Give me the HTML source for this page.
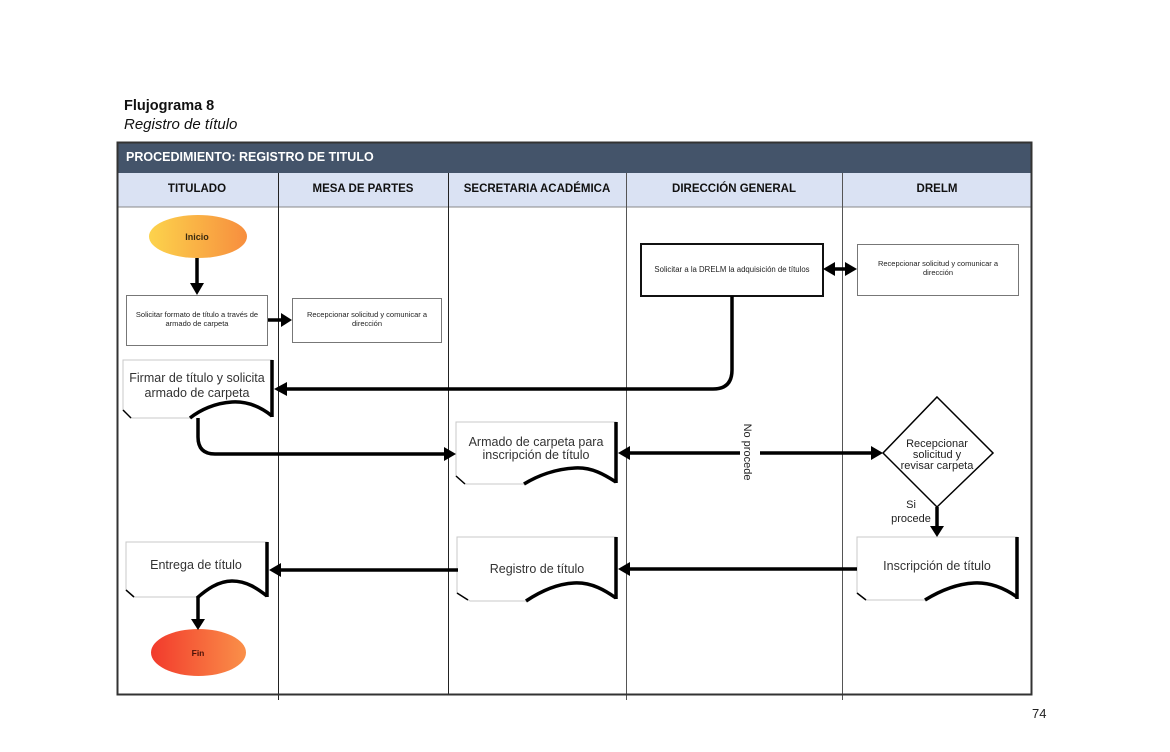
<!DOCTYPE html>
<html>
<head>
<meta charset="utf-8">
<style>
html,body{margin:0;padding:0;background:#fff;}
body{width:1170px;height:752px;overflow:hidden;}
svg{display:block;}
text{font-family:"Liberation Sans",Arial,sans-serif;}
</style>
</head>
<body>
<svg width="1170" height="752" viewBox="0 0 1170 752" xmlns="http://www.w3.org/2000/svg">
  <defs>
    <linearGradient id="gIni" x1="0" y1="0" x2="1" y2="0">
      <stop offset="0" stop-color="#fcd34c"/>
      <stop offset="1" stop-color="#f78e3e"/>
    </linearGradient>
    <linearGradient id="gFin" x1="0" y1="0" x2="1" y2="0">
      <stop offset="0" stop-color="#f23a2c"/>
      <stop offset="1" stop-color="#fa9049"/>
    </linearGradient>
  </defs>

  <!-- Titles -->
  <text x="124" y="110" font-size="14.5" font-weight="bold" fill="#111">Flujograma 8</text>
  <text x="124" y="129" font-size="15" font-style="italic" fill="#111">Registro de título</text>

  <!-- Header band -->
  <rect x="117" y="142" width="915" height="31" fill="#44546a"/>
  <text x="126" y="161" font-size="12.5" font-weight="bold" fill="#ffffff">PROCEDIMIENTO: REGISTRO DE TITULO</text>

  <!-- Lane header row -->
  <rect x="117" y="173" width="915" height="34" fill="#dae2f3"/>
  <line x1="117" y1="207" x2="1032" y2="207" stroke="#888" stroke-width="1"/>
  <g font-size="11.5" font-weight="bold" fill="#111" text-anchor="middle">
    <text x="197" y="192">TITULADO</text>
    <text x="363" y="192">MESA DE PARTES</text>
    <text x="537" y="192">SECRETARIA ACADÉMICA</text>
    <text x="734" y="192">DIRECCIÓN GENERAL</text>
    <text x="937" y="192">DRELM</text>
  </g>

  <!-- Lane dividers -->
  <line x1="278.5" y1="173" x2="278.5" y2="700" stroke="#222" stroke-width="1"/>
  <line x1="448.5" y1="173" x2="448.5" y2="694" stroke="#222" stroke-width="1"/>
  <line x1="626.5" y1="173" x2="626.5" y2="700" stroke="#555" stroke-width="1"/>
  <line x1="842.5" y1="173" x2="842.5" y2="700" stroke="#555" stroke-width="1"/>

  <!-- Outer border -->
  <rect x="117.5" y="142.5" width="914" height="552" fill="none" stroke="#333" stroke-width="2"/>

  <!-- Inicio -->
  <ellipse cx="198" cy="236.5" rx="49" ry="21.5" fill="url(#gIni)"/>
  <text x="197" y="240" font-size="9" font-weight="bold" fill="#3a2a10" text-anchor="middle">Inicio</text>

  <!-- Solicitar formato box -->
  <rect x="126.5" y="295.5" width="141" height="50" fill="#fff" stroke="#777" stroke-width="1"/>
  <g font-size="7.5" fill="#222" text-anchor="middle">
    <text x="197" y="317">Solicitar formato de título a través de</text>
    <text x="197" y="326">armado de carpeta</text>
  </g>

  <!-- Recepcionar (Mesa) box -->
  <rect x="292.5" y="298.5" width="149" height="44" fill="#fff" stroke="#777" stroke-width="1"/>
  <g font-size="7.5" fill="#222" text-anchor="middle">
    <text x="367" y="317">Recepcionar solicitud y comunicar a</text>
    <text x="367" y="326">dirección</text>
  </g>

  <!-- Dirección General box -->
  <rect x="641" y="244" width="182" height="52" fill="#fff" stroke="#111" stroke-width="2"/>
  <text x="732" y="272" font-size="7.8" fill="#222" text-anchor="middle">Solicitar a la DRELM la adquisición de títulos</text>

  <!-- DRELM box -->
  <rect x="857.5" y="244.5" width="161" height="51" fill="#fff" stroke="#777" stroke-width="1"/>
  <g font-size="7.5" fill="#222" text-anchor="middle">
    <text x="938" y="266">Recepcionar solicitud y comunicar a</text>
    <text x="938" y="275">dirección</text>
  </g>

  <!-- Firmar -->
  <g>
    <path d="M123,360 H272 V416 C262,408 248,400 232,402 C215,404 200,410 192,418 H131 L123,410 Z" fill="#fff" stroke="#c8c8c8" stroke-width="1"/>
    <line x1="272" y1="360" x2="272" y2="417" stroke="#000" stroke-width="3.5"/>
    <path d="M190,418 C200,410 215,403 232,402 C248,401 262,408 272,416" fill="none" stroke="#000" stroke-width="3.5"/>
    <path d="M123,410 L131,418" stroke="#000" stroke-width="1.5"/>
    <g font-size="12.5" fill="#333" text-anchor="middle">
      <text x="197" y="382">Firmar de título y solicita</text>
      <text x="197" y="397">armado de carpeta</text>
    </g>
  </g>

  <!-- Armado -->
  <g>
    <path d="M456,422 H616 V482 C605,475 592,467 575,468 C555,469 537,477 526,484 H465 L456,476 Z" fill="#fff" stroke="#c8c8c8" stroke-width="1"/>
    <line x1="616" y1="422" x2="616" y2="483" stroke="#000" stroke-width="3.5"/>
    <path d="M524,484 C537,476 555,469 575,468 C592,467 605,475 616,482" fill="none" stroke="#000" stroke-width="3.5"/>
    <path d="M456,476 L465,484" stroke="#000" stroke-width="1.5"/>
    <g font-size="12.5" fill="#333" text-anchor="middle">
      <text x="536" y="446">Armado de carpeta para</text>
      <text x="536" y="459">inscripción de título</text>
    </g>
  </g>

  <!-- Entrega -->
  <g>
    <path d="M126,542 H267 V596 C258,589 247,581 232,581 C218,581 206,590 199,597 H134 L126,590 Z" fill="#fff" stroke="#c8c8c8" stroke-width="1"/>
    <line x1="267" y1="542" x2="267" y2="597" stroke="#000" stroke-width="3.5"/>
    <path d="M197,598 C206,590 218,581 232,581 C247,581 258,589 267,596" fill="none" stroke="#000" stroke-width="3.5"/>
    <path d="M126,590 L134,597" stroke="#000" stroke-width="1.5"/>
    <text x="196" y="569" font-size="12.5" fill="#333" text-anchor="middle">Entrega de título</text>
  </g>

  <!-- Registro -->
  <g>
    <path d="M457,537 H616 V598 C606,591 592,582 574,583 C555,584 538,593 528,601 H470 L457,593 Z" fill="#fff" stroke="#c8c8c8" stroke-width="1"/>
    <line x1="616" y1="537" x2="616" y2="599" stroke="#000" stroke-width="3.5"/>
    <path d="M526,601 C538,593 555,584 574,583 C592,582 606,591 616,598" fill="none" stroke="#000" stroke-width="3.5"/>
    <path d="M457,593 L468,600" stroke="#000" stroke-width="1.5"/>
    <text x="537" y="573" font-size="12.5" fill="#333" text-anchor="middle">Registro de título</text>
  </g>

  <!-- Inscripción -->
  <g>
    <path d="M857,537 H1017 V597 C1007,590 992,582 974,583 C955,584 938,592 927,600 H866 L857,593 Z" fill="#fff" stroke="#c8c8c8" stroke-width="1"/>
    <line x1="1017" y1="537" x2="1017" y2="599" stroke="#000" stroke-width="3.5"/>
    <path d="M925,600 C938,592 955,584 974,583 C992,582 1007,590 1017,597" fill="none" stroke="#000" stroke-width="3.5"/>
    <path d="M857,593 L866,600" stroke="#000" stroke-width="1.5"/>
    <text x="937" y="570" font-size="12.5" fill="#333" text-anchor="middle">Inscripción de título</text>
  </g>

  <!-- Diamond -->
  <polygon points="937,397 993,453 937,507 883,453" fill="#fff" stroke="#000" stroke-width="1.5"/>
  <g font-size="11" fill="#222" text-anchor="middle">
    <text x="937" y="447">Recepcionar</text>
    <text x="937" y="458">solicitud y</text>
    <text x="937" y="469">revisar carpeta</text>
  </g>
  <text x="911" y="508" font-size="11" fill="#222" text-anchor="middle">Si</text>
  <text x="911" y="522" font-size="11" fill="#222" text-anchor="middle">procede</text>

  <!-- Fin -->
  <ellipse cx="198.5" cy="652.5" rx="47.5" ry="23.5" fill="url(#gFin)"/>
  <text x="198" y="656" font-size="8.5" font-weight="bold" fill="#4a1208" text-anchor="middle">Fin</text>

  <!-- Connectors -->
  <g stroke="#000" stroke-width="3.5" fill="none" stroke-linecap="butt">
    <line x1="197" y1="258" x2="197" y2="284"/>
    <line x1="268" y1="320" x2="282" y2="320"/>
    <path d="M732,296 V370 Q732,389 713,389 H286"/>
    <line x1="833" y1="269" x2="847" y2="269"/>
    <path d="M198,418 V437 Q198,454 215,454 H445"/>
    <line x1="629" y1="453" x2="740" y2="453"/>
    <line x1="760" y1="453" x2="872" y2="453"/>
    <line x1="937" y1="507" x2="937" y2="527"/>
    <line x1="857" y1="569" x2="629" y2="569"/>
    <line x1="458" y1="570" x2="280" y2="570"/>
    <line x1="198" y1="597" x2="198" y2="620"/>
  </g>
  <g fill="#000">
    <polygon points="190,283 204,283 197,295"/>
    <polygon points="281,313 281,327 292,320"/>
    <polygon points="287,382 287,396 274,389"/>
    <polygon points="823,269 835,262 835,276"/>
    <polygon points="857,269 845,262 845,276"/>
    <polygon points="444,447 444,461 456,454"/>
    <polygon points="618,453 630,446 630,460"/>
    <polygon points="883,453 871,446 871,460"/>
    <polygon points="930,526 944,526 937,537"/>
    <polygon points="618,569 630,562 630,576"/>
    <polygon points="269,570 281,563 281,577"/>
    <polygon points="191,619 205,619 198,630"/>
  </g>

  <!-- No procede vertical label -->
  <text x="0" y="0" font-size="11" fill="#222" text-anchor="middle" transform="translate(744,452) rotate(90)">No procede</text>

  <!-- Page number -->
  <text x="1032" y="718" font-size="13" fill="#222">74</text>
</svg>
</body>
</html>
